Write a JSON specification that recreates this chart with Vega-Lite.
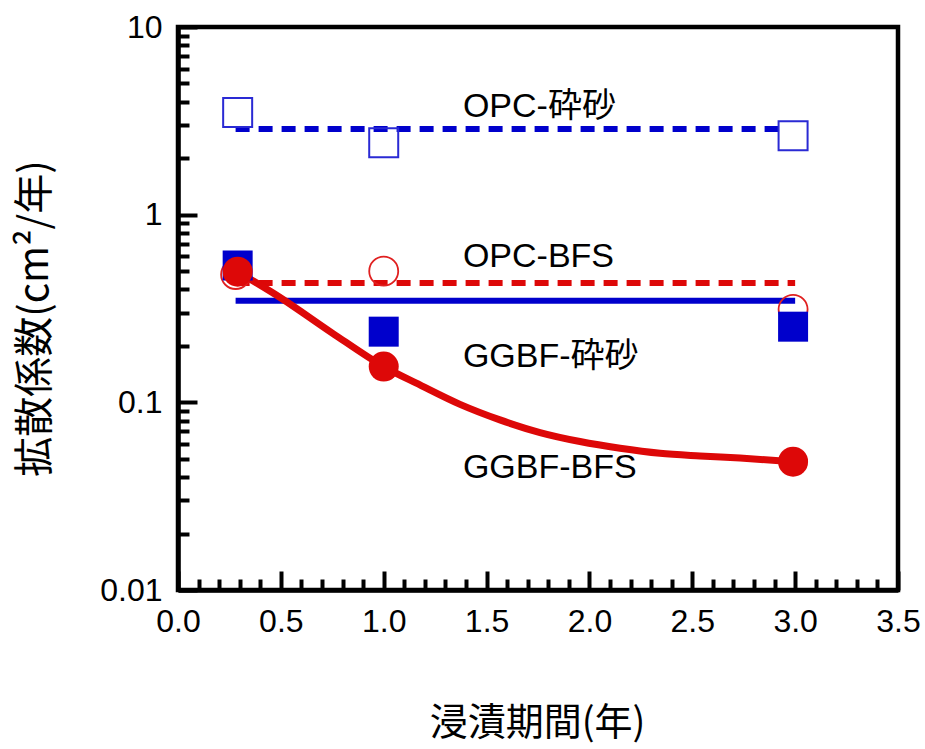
{
  "$schema": "https://vega.github.io/schema/vega-lite/v6.json",
  "autosize": {"type": "none"},
  "padding": {"left": 178, "top": 27, "right": 27, "bottom": 159},
  "width": 720,
  "height": 563,
  "background": "white",
  "datasets": {
    "pts": [
      {"series": "OPC-砕砂", "t": 0.29, "D": 3.5},
      {"series": "OPC-砕砂", "t": 1.0, "D": 2.42},
      {"series": "OPC-砕砂", "t": 2.99, "D": 2.63},
      {"series": "OPC-BFS", "t": 0.28, "D": 0.48},
      {"series": "OPC-BFS", "t": 1.0, "D": 0.5},
      {"series": "OPC-BFS", "t": 2.99, "D": 0.313},
      {"series": "GGBF-砕砂", "t": 0.29, "D": 0.536},
      {"series": "GGBF-砕砂", "t": 1.0, "D": 0.238},
      {"series": "GGBF-砕砂", "t": 2.99, "D": 0.253},
      {"series": "GGBF-BFS", "t": 0.29, "D": 0.497},
      {"series": "GGBF-BFS", "t": 1.0, "D": 0.155},
      {"series": "GGBF-BFS", "t": 2.99, "D": 0.0483}
    ],
    "fits": [
      {"series": "OPC-砕砂", "t": 0.28, "D": 2.86},
      {"series": "OPC-砕砂", "t": 2.92, "D": 2.86},
      {"series": "OPC-BFS", "t": 0.28, "D": 0.433},
      {"series": "OPC-BFS", "t": 3.0, "D": 0.433},
      {"series": "GGBF-砕砂", "t": 0.28, "D": 0.348},
      {"series": "GGBF-砕砂", "t": 3.0, "D": 0.348},
      {"series": "GGBF-BFS", "t": 0.29, "D": 0.497},
      {"series": "GGBF-BFS", "t": 0.5, "D": 0.36},
      {"series": "GGBF-BFS", "t": 0.75, "D": 0.234},
      {"series": "GGBF-BFS", "t": 1.0, "D": 0.155},
      {"series": "GGBF-BFS", "t": 1.176, "D": 0.1238},
      {"series": "GGBF-BFS", "t": 1.371, "D": 0.0975},
      {"series": "GGBF-BFS", "t": 1.565, "D": 0.0806},
      {"series": "GGBF-BFS", "t": 1.76, "D": 0.069},
      {"series": "GGBF-BFS", "t": 1.954, "D": 0.0618},
      {"series": "GGBF-BFS", "t": 2.149, "D": 0.0569},
      {"series": "GGBF-BFS", "t": 2.343, "D": 0.0535},
      {"series": "GGBF-BFS", "t": 2.538, "D": 0.0518},
      {"series": "GGBF-BFS", "t": 2.732, "D": 0.0505},
      {"series": "GGBF-BFS", "t": 2.99, "D": 0.0483}
    ],
    "labels": [
      {"text": "OPC-砕砂", "t": 1.385, "D": 3.3},
      {"text": "OPC-BFS", "t": 1.385, "D": 0.528},
      {"text": "GGBF-砕砂", "t": 1.385, "D": 0.1538},
      {"text": "GGBF-BFS", "t": 1.385, "D": 0.0395}
    ]
  },
  "resolve": {"axis": {"x": "independent", "y": "independent"}},
  "layer": [
    {
      "data": {"name": "pts"},
      "mark": {"type": "point", "opacity": 0},
      "encoding": {
        "x": {"field": "t", "type": "quantitative",
          "scale": {"domain": [0, 3.5], "nice": false, "zero": false},
          "axis": {"orient": "bottom", "values": [0.1, 0.2, 0.3, 0.4, 0.6, 0.7, 0.8, 0.9, 1.1, 1.2, 1.3, 1.4, 1.6, 1.7, 1.8, 1.9, 2.1, 2.2, 2.3, 2.4, 2.6, 2.7, 2.8, 2.9, 3.1, 3.2, 3.3, 3.4],
            "tickSize": -11, "labels": false, "domain": false, "title": null}},
        "y": {"field": "D", "type": "quantitative",
          "scale": {"type": "log", "domain": [0.01, 10], "nice": false},
          "axis": {"orient": "left", "values": [0.02, 0.03, 0.04, 0.05, 0.06, 0.07, 0.08, 0.09, 0.2, 0.3, 0.4, 0.5, 0.6, 0.7, 0.8, 0.9, 2, 3, 4, 5, 6, 7, 8, 9],
            "tickSize": -11, "labels": false, "domain": false, "title": null}}
      }
    },
    {
      "data": {"name": "pts"},
      "mark": {"type": "point", "opacity": 0},
      "encoding": {
        "x": {"field": "t", "type": "quantitative",
          "axis": {"orient": "bottom", "values": [0, 0.5, 1, 1.5, 2, 2.5, 3, 3.5], "format": ".1f",
            "tickSize": -19, "labelPadding": 35, "labelFlush": false, "labelOverlap": false,
            "title": "浸漬期間(年)", "titleFontSize": 38, "titleX": 359, "titleY": 133, "titleAlign": "center", "titleBaseline": "middle", "titleAnchor": null}},
        "y": {"field": "D", "type": "quantitative",
          "axis": {"orient": "left", "values": [0.01, 0.1, 1, 10], "format": "~g",
            "tickSize": -19, "labelPadding": 35, "labelFlush": false, "labelOverlap": false,
            "title": "拡散係数(cm²/年)", "titleX": -143, "titleY": 291, "titleAngle": -90, "titleAlign": "center", "titleBaseline": "middle"}}
      }
    },
    {
      "data": {"name": "fits"},
      "transform": [{"filter": "datum.series === 'OPC-砕砂'"}],
      "mark": {"type": "line", "color": "#0000CC", "strokeWidth": 6, "strokeDash": [14, 9]},
      "encoding": {"x": {"field": "t", "type": "quantitative", "axis": null}, "y": {"field": "D", "type": "quantitative", "axis": null}}
    },
    {
      "data": {"name": "fits"},
      "transform": [{"filter": "datum.series === 'OPC-BFS'"}],
      "mark": {"type": "line", "color": "#DD0808", "strokeWidth": 6, "strokeDash": [14, 9]},
      "encoding": {"x": {"field": "t", "type": "quantitative", "axis": null}, "y": {"field": "D", "type": "quantitative", "axis": null}}
    },
    {
      "data": {"name": "fits"},
      "transform": [{"filter": "datum.series === 'GGBF-砕砂'"}],
      "mark": {"type": "line", "color": "#0000CC", "strokeWidth": 6},
      "encoding": {"x": {"field": "t", "type": "quantitative", "axis": null}, "y": {"field": "D", "type": "quantitative", "axis": null}}
    },
    {
      "data": {"name": "fits"},
      "transform": [{"filter": "datum.series === 'GGBF-BFS'"}],
      "mark": {"type": "line", "color": "#DD0808", "strokeWidth": 7, "interpolate": "monotone"},
      "encoding": {"x": {"field": "t", "type": "quantitative", "axis": null}, "y": {"field": "D", "type": "quantitative", "axis": null}}
    },
    {
      "data": {"name": "pts"},
      "transform": [{"filter": "datum.series === 'OPC-砕砂'"}],
      "mark": {"type": "point", "shape": "square", "size": 841, "filled": false, "fill": "white", "fillOpacity": 0, "stroke": "#2A2AD4", "strokeWidth": 2, "opacity": 1},
      "encoding": {"x": {"field": "t", "type": "quantitative", "axis": null}, "y": {"field": "D", "type": "quantitative", "axis": null}}
    },
    {
      "data": {"name": "pts"},
      "transform": [{"filter": "datum.series === 'OPC-BFS'"}],
      "mark": {"type": "point", "shape": "circle", "size": 841, "filled": false, "fill": "white", "fillOpacity": 0, "stroke": "#E02020", "strokeWidth": 1.8, "opacity": 1},
      "encoding": {"x": {"field": "t", "type": "quantitative", "axis": null}, "y": {"field": "D", "type": "quantitative", "axis": null}}
    },
    {
      "data": {"name": "pts"},
      "transform": [{"filter": "datum.series === 'GGBF-砕砂'"}],
      "mark": {"type": "point", "shape": "square", "size": 900, "filled": true, "color": "#0000CC", "opacity": 1},
      "encoding": {"x": {"field": "t", "type": "quantitative", "axis": null}, "y": {"field": "D", "type": "quantitative", "axis": null}}
    },
    {
      "data": {"name": "pts"},
      "transform": [{"filter": "datum.series === 'GGBF-BFS'"}],
      "mark": {"type": "point", "shape": "circle", "size": 900, "filled": true, "color": "#DD0808", "opacity": 1},
      "encoding": {"x": {"field": "t", "type": "quantitative", "axis": null}, "y": {"field": "D", "type": "quantitative", "axis": null}}
    },
    {
      "data": {"name": "labels"},
      "mark": {"type": "text", "align": "left", "baseline": "alphabetic", "font": "Liberation Sans, Noto Sans CJK JP", "fontSize": 34, "color": "black"},
      "encoding": {
        "x": {"field": "t", "type": "quantitative", "axis": null},
        "y": {"field": "D", "type": "quantitative", "axis": null},
        "text": {"field": "text"}
      }
    }
  ],
  "config": {
    "view": {"stroke": "black", "strokeWidth": 4.5},
    "axis": {
      "grid": false,
      "domainColor": "black",
      "domainWidth": 4.5,
      "tickColor": "black",
      "tickWidth": 4,
      "labelFont": "Liberation Sans",
      "labelFontSize": 32,
      "labelColor": "black",
      "titleFont": "Noto Sans CJK JP",
      "titleFontSize": 40,
      "titleFontWeight": "normal",
      "titleColor": "black"
    }
  }
}
